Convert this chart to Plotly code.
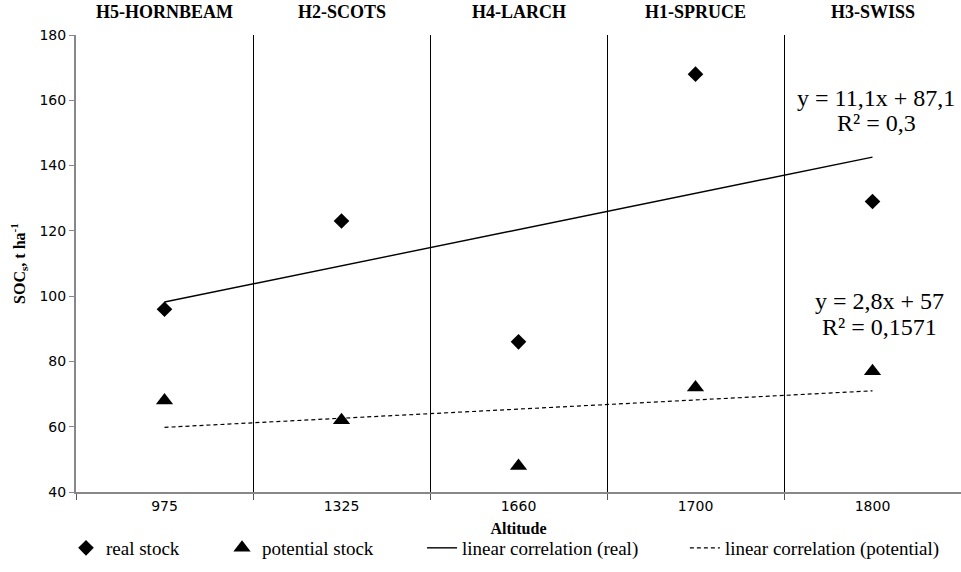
import numpy as np
import plotly.graph_objects as go

altitudes = ["975", "1325", "1660", "1700", "1800"]
sites = ["H5-HORNBEAM", "H2-SCOTS", "H4-LARCH", "H1-SPRUCE", "H3-SWISS"]
real_stock = [96, 123, 86, 168, 129]
potential_stock = [68, 62, 48, 72, 77]
eq_real = ["y = 11,1x + 87,1", "R² = 0,3"]
eq_pot = ["y = 2,8x + 57", "R² = 0,1571"]

idx = np.arange(1, len(altitudes) + 1)
pr = np.polyfit(idx, real_stock, 1)
pp = np.polyfit(idx, potential_stock, 1)

serif = "Liberation Serif"
fig = go.Figure()
fig.add_trace(go.Scatter(x=idx, y=real_stock, mode="markers", name="real stock", legend="legend",
                         marker=dict(symbol="diamond", size=12, color="black")))
fig.add_trace(go.Scatter(x=idx, y=potential_stock, mode="markers", name="potential stock",
                         legend="legend2",
                         marker=dict(symbol="triangle-up", size=15, color="black")))
fig.add_trace(go.Scatter(x=[idx[0], idx[-1]], y=np.polyval(pr, [idx[0], idx[-1]]), mode="lines",
                         name="linear correlation (real)", legend="legend3",
                         line=dict(color="black", width=1.4)))
fig.add_trace(go.Scatter(x=[idx[0], idx[-1]], y=np.polyval(pp, [idx[0], idx[-1]]), mode="lines",
                         name="linear correlation (potential)", legend="legend4",
                         line=dict(color="black", width=1.2, dash="4px,3px")))

for i, s in enumerate(sites):
    fig.add_annotation(x=idx[i], y=1.0, xref="x", yref="paper", yanchor="bottom", yshift=11,
                       text="<b>%s</b>" % s, showarrow=False,
                       font=dict(family=serif, size=18, color="black"))

eq_font = dict(family=serif, size=24, color="black")
for txt, yv in zip(eq_real, [160.7, 153.0]):
    fig.add_annotation(x=5.02, y=yv, xref="x", yref="y", text=txt, showarrow=False,
                       xanchor="center", yanchor="middle", font=eq_font)
for txt, yv in zip(eq_pot, [98.5, 90.4]):
    fig.add_annotation(x=5.04, y=yv, xref="x", yref="y", text=txt, showarrow=False,
                       xanchor="center", yanchor="middle", font=eq_font)

leg_font = dict(family=serif, size=19, color="black")
def leg(x):
    return dict(orientation="h", x=x, y=-0.1225, xanchor="left", yanchor="middle",
                font=leg_font, bgcolor="rgba(0,0,0,0)", itemwidth=30)

fig.update_layout(
    width=961, height=572, margin=dict(l=76, r=0, t=35, b=80, autoexpand=False),
    plot_bgcolor="white", paper_bgcolor="white",
    showlegend=True,
    legend=leg(-0.0113), legend2=leg(0.165), legend3=leg(0.391), legend4=leg(0.688),
    xaxis=dict(range=[0.5, 5.5], tickvals=list(idx), ticktext=altitudes, ticks="",
               showline=True, linecolor="#888888", linewidth=2, showgrid=False, zeroline=False,
               tickfont=dict(family="DejaVu Sans", size=14, color="black"),
               title=dict(text="<b>Altitude</b>", font=dict(family=serif, size=16, color="black"),
                          standoff=10),
               minor=dict(tick0=0.5, dtick=1, ticks="outside", ticklen=6, tickcolor="#555555",
                          showgrid=True, gridcolor="black", gridwidth=1)),
    yaxis=dict(range=[40, 180], dtick=20, ticks="outside", ticklen=5, tickcolor="#888888",
               showline=True, linecolor="#888888", linewidth=2, showgrid=False, zeroline=False,
               tickfont=dict(family="DejaVu Sans", size=14, color="black"),
               title=dict(text="<b>SOC<sub>s</sub>, t ha<sup>-1</sup></b>",
                          font=dict(family=serif, size=16, color="black"), standoff=10)),
)

fig.write_html("out.html")
